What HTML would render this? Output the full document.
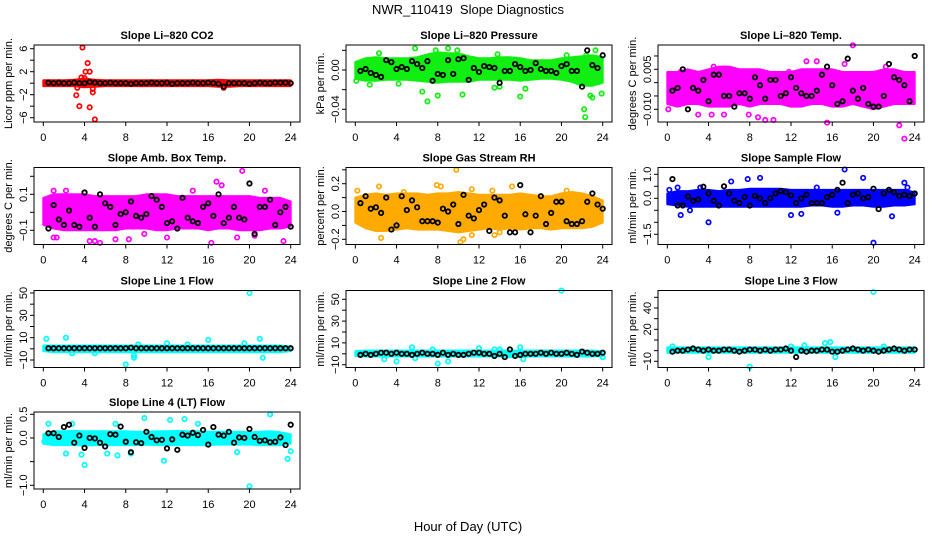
<!DOCTYPE html>
<html><head><meta charset="utf-8"><style>
html,body{margin:0;padding:0;background:#fff}
svg{display:block;font-family:"Liberation Sans",sans-serif}
</style></head><body>
<svg id="chart" width="936" height="540" viewBox="0 0 936 540">
<text x="468" y="14" text-anchor="middle" font-size="13">NWR_110419&#160; Slope Diagnostics</text>
<text x="468" y="531" text-anchor="middle" font-size="13">Hour of Day (UTC)</text>
<g id="panels"></g>
</svg>
<script>
// x axis ticks (hours)
const xTicks = [0,4,8,12,16,20,24];
const hours = [0,1,2,3,4,5,6,7,8,9,10,11,12,13,14,15,16,17,18,19,20,21,22,23,24];
// black points are at 0.5 h steps starting 0.5
// ---- Panel 1: CO2 ----
const co2Lo = [-0.5,-0.5,-0.5,-0.5,-0.7,-0.6,-0.5,-0.5,-0.5,-0.5,-0.5,-0.5,-0.5,-0.5,-0.5,-0.5,-0.5,-0.6,-0.6,-0.5,-0.5,-0.5,-0.5,-0.5,-0.5];
const co2Hi = [0.5,0.5,0.5,0.6,0.8,0.6,0.5,0.5,0.5,0.5,0.5,0.5,0.5,0.5,0.5,0.5,0.5,0.6,0.5,0.5,0.5,0.5,0.5,0.5,0.5];
const co2OutX = [3.8,4.3,4.5,4.1,3.7,3.2,3.5,4.5,5.0,4.8,4.8,3.3,17.5,4.0,3.9];
const co2OutY = [6.2,3.5,2.0,2.0,1.0,-2.1,-4.0,-4.2,-6.3,-1.6,-1.0,-0.8,-0.8,0.9,0.4];
const co2Blk = [0.1,0,0.1,0,0,0.1,0,0,0.2,0.1,0,0,0.1,0,0,0,-0.1,0,0,0,0.1,0,0,0.1,-0.1,0,0,0,0.1,0,0,0.1,0,-0.1,-0.6,0,0,0,0,-0.1,0,0.1,0,0,0.1,0.1,0.1,0];
// ---- Panel 2: Pressure ----
const prLo = [-0.009,-0.011,-0.011,-0.010,-0.010,-0.010,-0.011,-0.012,-0.013,-0.012,-0.012,-0.012,-0.010,-0.010,-0.010,-0.010,-0.011,-0.010,-0.009,-0.009,-0.010,-0.012,-0.016,-0.016,-0.013];
const prHi = [0.008,0.012,0.013,0.012,0.012,0.012,0.013,0.016,0.018,0.017,0.017,0.014,0.012,0.012,0.013,0.013,0.012,0.010,0.010,0.010,0.012,0.013,0.014,0.015,0.013];
const prOutX = [5.8,6.5,7.0,8.0,9.0,10.4,13.5,14.0,16.0,16.5,22.2,22.3,22.8,23.0,23.9,23.3,22.4,0.1,1.4,2.3,4.2,7.8,9.9,13.8,20.5];
const prOutY = [0.022,-0.022,-0.032,-0.026,0.022,-0.025,-0.018,-0.017,-0.027,-0.019,-0.040,-0.048,-0.026,-0.028,-0.024,0.020,0.015,-0.011,-0.015,0.017,-0.014,0.020,0.020,0.016,0.015];
const prBlk = [-0.001,0.001,-0.003,-0.005,-0.007,0.010,0.008,0.001,0.003,0.001,0.009,0.006,0.002,0.009,-0.011,-0.004,-0.005,0.010,-0.004,0.011,0.012,-0.010,0.002,-0.002,0.004,0.003,0.002,-0.013,-0.001,-0.001,0.006,0.003,-0.001,0.000,0.007,0.001,-0.001,-0.001,-0.003,0.004,0.006,-0.001,-0.001,-0.017,0.020,0.005,0.002,0.015];
// ---- Panel 3: Li-820 Temp ----
const tLo = [-0.008,-0.009,-0.008,-0.008,-0.009,-0.009,-0.009,-0.008,-0.009,-0.008,-0.008,-0.008,-0.009,-0.009,-0.008,-0.008,-0.009,-0.009,-0.008,-0.009,-0.010,-0.009,-0.008,-0.008,-0.008];
const tHi = [0.004,0.004,0.005,0.004,0.005,0.006,0.006,0.005,0.005,0.005,0.004,0.004,0.004,0.005,0.005,0.005,0.005,0.004,0.004,0.004,0.004,0.005,0.005,0.004,0.004];
const tOutX = [18.0,13.5,14.5,4.5,0.1,4.3,5.5,8.8,9.5,10.3,15.5,22.5,23.0,3.0,1.3,6.2,11.8,17.2,21.2,7.9];
const tOutY = [0.014,0.008,0.008,0.006,-0.010,-0.012,-0.012,-0.013,-0.014,-0.014,-0.015,-0.016,-0.021,-0.012,0.004,0.003,0.004,0.007,0.006,-0.012];
const tBlk = [-0.003,-0.002,0.005,-0.010,-0.002,-0.003,0.001,-0.007,0.003,0.003,-0.005,-0.005,-0.009,-0.004,-0.004,-0.006,0.002,-0.001,-0.006,0.001,0.001,-0.005,-0.004,0.002,-0.002,-0.004,-0.005,-0.005,-0.003,0.003,0.006,-0.001,-0.008,-0.007,0.009,-0.003,-0.006,-0.002,-0.008,-0.009,-0.009,-0.005,0.007,0.002,0.001,-0.001,-0.007,0.010];
// ---- Panel 4: Amb. Box Temp ----
const abLo = [-0.07,-0.09,-0.10,-0.10,-0.10,-0.10,-0.10,-0.10,-0.09,-0.09,-0.09,-0.10,-0.10,-0.09,-0.09,-0.09,-0.10,-0.09,-0.09,-0.10,-0.10,-0.10,-0.09,-0.09,-0.08];
const abHi = [0.08,0.10,0.10,0.10,0.10,0.09,0.09,0.09,0.09,0.09,0.10,0.10,0.10,0.09,0.09,0.09,0.09,0.09,0.09,0.09,0.09,0.08,0.08,0.08,0.06];
const abOutX = [19.3,16.8,17.3,14.5,1.0,2.2,21.5,4.5,5.0,5.5,8.3,12.0,16.3,18.8,23.3,1.0,1.3,7.0,20.5,9.8];
const abOutY = [0.23,0.17,0.15,0.12,0.12,0.12,0.12,-0.16,-0.16,-0.17,-0.15,-0.14,-0.17,-0.14,-0.16,-0.14,-0.14,-0.15,-0.13,-0.12];
const abBlk = [-0.09,0.04,-0.04,-0.07,0.01,-0.07,-0.08,0.11,-0.03,-0.08,0.10,0.05,0.03,-0.07,-0.01,0.00,0.06,-0.02,-0.03,-0.01,0.09,0.07,0.03,-0.06,-0.05,-0.09,0.08,-0.03,-0.05,-0.06,0.03,0.05,-0.02,0.10,-0.06,-0.03,0.03,-0.03,-0.04,0.16,-0.12,0.03,0.03,0.07,-0.07,0.00,0.03,-0.08];
// ---- Panel 5: Gas Stream RH ----
const rhLo = [-0.08,-0.12,-0.14,-0.14,-0.13,-0.12,-0.13,-0.13,-0.13,-0.14,-0.15,-0.14,-0.13,-0.12,-0.13,-0.12,-0.13,-0.12,-0.12,-0.13,-0.12,-0.12,-0.12,-0.11,-0.08];
const rhHi = [0.10,0.12,0.13,0.12,0.13,0.13,0.13,0.12,0.13,0.13,0.14,0.13,0.12,0.12,0.12,0.12,0.13,0.12,0.11,0.11,0.13,0.14,0.13,0.11,0.08];
const rhOutX = [9.8,0.2,2.3,7.9,8.3,11.3,13.3,15.2,2.5,10.2,10.5,11.3,13.5,14.0,4.7,20.5];
const rhOutY = [0.30,0.15,0.18,0.19,0.18,0.16,0.15,0.18,-0.19,-0.22,-0.20,-0.17,-0.17,-0.15,0.14,0.15];
const rhBlk = [0.06,0.11,0.02,0.03,-0.01,0.10,-0.13,-0.10,0.11,0.01,0.08,0.03,-0.07,-0.07,-0.07,-0.08,0.02,0.00,0.05,-0.09,0.12,-0.03,-0.05,0.01,0.05,-0.14,0.10,0.08,-0.03,-0.15,-0.15,0.19,-0.02,-0.15,-0.03,0.11,-0.09,-0.01,0.07,0.07,-0.07,-0.09,-0.09,-0.07,0.07,0.13,0.05,0.02];
// ---- Panel 6: Sample Flow ----
const sfLo = [-0.25,-0.30,-0.35,-0.35,-0.35,-0.35,-0.35,-0.35,-0.35,-0.35,-0.35,-0.35,-0.35,-0.35,-0.30,-0.30,-0.35,-0.35,-0.30,-0.30,-0.35,-0.35,-0.30,-0.30,-0.25];
const sfHi = [0.20,0.30,0.30,0.35,0.35,0.30,0.35,0.35,0.40,0.40,0.40,0.40,0.35,0.35,0.35,0.35,0.35,0.35,0.35,0.35,0.35,0.35,0.35,0.35,0.25];
const sfOutX = [17.2,19.0,9.0,7.8,6.2,23.0,4.0,20.0,12.0,13.0,1.3,21.8,16.5,0.2,1.0,3.2,23.3,2.2,14.5];
const sfOutY = [1.20,0.85,0.85,0.80,0.70,0.65,-1.00,-1.85,-0.70,-0.65,-0.70,-0.75,-0.60,0.35,0.45,0.45,0.45,-0.50,0.45];
const sfBlk = [0.80,-0.30,-0.30,0.08,-0.10,-0.05,0.48,0.20,-0.10,-0.30,0.50,0.20,-0.10,-0.20,0.05,-0.30,0.10,0.00,-0.20,0.00,0.20,0.30,0.25,0.12,-0.20,-0.00,0.15,-0.20,-0.20,-0.20,0.05,0.15,0.35,0.65,-0.20,0.15,0.20,0.00,0.05,0.40,-0.45,0.20,0.35,0.25,0.10,0.15,0.10,0.20];
// ---- Panel 7: Line 1 Flow ----
const l1Lo = [-2,-3,-3,-3,-3,-3,-3,-3,-3,-3,-3,-3,-3,-3,-3,-3,-3,-3,-3,-3,-3,-3,-3,-3,-2];
const l1Hi = [3,3,3,3,3,3,3,3,3,3,3,3,3,3,3,3,3,3,3,3,3,3,3,3,2];
const l1OutX = [20.0,0.3,2.2,21.0,16.0,8.0,8.8,8.8,2.8,21.3,5.0,19.5,9.2,14.0,12.0];
const l1OutY = [50,9,10,9,8,-14,-8,-6,-4,-8,-4,5,4,4,5];
const l1Blk = [0.5,0.5,0.5,0.5,0.5,0.5,0.5,0.5,0.5,0.5,0.5,0.5,0.5,0.5,0.5,0.5,1,0.5,0.5,0.5,0.5,0.5,0.5,0.5,0.5,0.5,0.5,0.5,0.5,0.5,0.5,0.5,0.5,0.5,0.5,0.5,0.5,0.5,0.5,0.5,0.5,0.5,0.5,0.5,0.5,0.5,0.5,0.5];
// ---- Panel 8: Line 2 Flow ----
const l2Lo = [-2,-2.5,-2.5,-2.5,-2.5,-2.5,-2.5,-2.5,-2.5,-2.5,-2.5,-2.5,-2.5,-2.5,-2.5,-3,-3,-2.5,-2.5,-2.5,-2.5,-2.5,-2.5,-2.5,-2];
const l2Hi = [2.5,3,3,3,3,3,3,3,3,3,3,3,3,3,3,3,3,3,3,3,3,3,3,3,2.5];
const l2OutX = [20.0,4.0,8.0,9.0,2.8,5.5,7.5,12.0,13.5,16.0,5.8,16.3,24.0,14.0];
const l2OutY = [58,-7,-9,-7,-5,6,4,5,4,6,-4,-5,-3,4];
const l2Blk = [-1,0,-1,0,1,1,0,1,0,0,-1,0,1,0,0,-1,1,-1,0,-1,-1,0,1,1,0,0,-2,0,-3,4,-2,-1,0,0,0,1,0,1,0,0,1,0,-1,2,1,0,0,1];
// ---- Panel 9: Line 3 Flow ----
const l3Lo = [-2,-2,-2,-2,-2,-2,-2,-2,-2,-2,-2,-2,-2,-2,-2,-2,-2,-2,-2,-2,-2,-2,-2,-2,-2];
const l3Hi = [3,3,3,3,3,3,3,3,3,3,3,3,3,3,3,3,3,3,3,3,3,3,3,3,3];
const l3OutX = [20.0,8.0,4.0,13.3,15.3,15.8,16.3,0.5,21.0,12.0];
const l3OutY = [55,-15,-6,5,7,8,-6,4,4,4];
const l3Blk = [-1,0,0,1,2,1,0,1,0,0,1,1,0,-1,0,1,1,0,1,0,1,1,2,0,-6,0,-1,0,0,1,1,-1,-1,0,1,2,1,0,1,0,-1,0,1,2,1,0,1,1];
// ---- Panel 10: Line 4 (LT) Flow ----
const l4Lo = [-0.12,-0.15,-0.15,-0.15,-0.16,-0.15,-0.15,-0.15,-0.15,-0.15,-0.14,-0.15,-0.15,-0.15,-0.15,-0.15,-0.15,-0.14,-0.14,-0.14,-0.14,-0.15,-0.15,-0.15,-0.12];
const l4Hi = [0.08,0.14,0.14,0.15,0.14,0.14,0.14,0.14,0.14,0.13,0.13,0.14,0.14,0.15,0.14,0.14,0.13,0.13,0.13,0.13,0.12,0.13,0.14,0.12,0.08];
const l4OutX = [20.0,4.0,22.0,9.8,11.7,23.7,2.8,0.5,7.0,12.3,13.7,18.8,2.2,6.2,7.2,8.5,3.7,24.0,0.1,15.0];
const l4OutY = [-1.02,-0.57,0.50,0.42,-0.48,-0.44,0.30,0.30,0.30,0.38,0.40,-0.30,-0.33,-0.33,-0.37,-0.33,-0.35,-0.28,-0.08,0.30];
const l4Blk = [0.10,0.10,0.02,0.23,0.28,-0.10,0.05,-0.21,0.00,-0.01,-0.10,-0.18,0.08,0.07,0.24,-0.08,-0.30,-0.09,-0.11,0.13,0.02,-0.05,-0.04,-0.22,-0.03,-0.25,0.07,0.05,0.11,0.06,0.17,-0.14,0.23,0.07,0.05,0.13,-0.10,0.01,0.00,0.19,0.02,-0.06,-0.05,-0.09,-0.08,0.01,-0.15,0.28];

const panels = [
 {name:'co2',title:'Slope Li\u2013820 CO2',ylab:'Licor ppm per min.',col:0,row:0,color:'#ff0000',lo:co2Lo,hi:co2Hi,ox:co2OutX,oy:co2OutY,blk:co2Blk,v1:6,p1:48.7,v2:-6,p2:117.7,ticks:[6,4,2,0,-2,-4,-6],labels:['6','2','\u22122','\u22126'],labelVals:[6,2,-2,-6]},
 {name:'pressure',title:'Slope Li\u2013820 Pressure',ylab:'kPa per min.',col:1,row:0,color:'#11ee11',lo:prLo,hi:prHi,ox:prOutX,oy:prOutY,blk:prBlk,v1:0,p1:70,v2:-0.04,p2:109.3,ticks:[0.02,0,-0.02,-0.04],labels:['0.00','\u22120.04'],labelVals:[0,-0.04]},
 {name:'li820-temp',title:'Slope Li\u2013820 Temp.',ylab:'degrees C per min.',col:2,row:0,color:'#ff00ff',lo:tLo,hi:tHi,ox:tOutX,oy:tOutY,blk:tBlk,v1:0.005,p1:69.3,v2:-0.010,p2:109.3,ticks:[0.010,0.005,0,-0.005,-0.010],labels:['0.005','\u22120.010'],labelVals:[0.005,-0.010]},
 {name:'amb-box-temp',title:'Slope Amb. Box Temp.',ylab:'degrees C per min.',col:0,row:1,color:'#ff00ff',lo:abLo,hi:abHi,ox:abOutX,oy:abOutY,blk:abBlk,v1:0.1,p1:194.3,v2:-0.1,p2:230.3,ticks:[0.2,0.1,0,-0.1],labels:['0.1','\u22120.1'],labelVals:[0.1,-0.1]},
 {name:'gas-stream-rh',title:'Slope Gas Stream RH',ylab:'percent per min.',col:1,row:1,color:'#ffaa00',lo:rhLo,hi:rhHi,ox:rhOutX,oy:rhOutY,blk:rhBlk,v1:0.2,p1:183.7,v2:-0.2,p2:239.3,ticks:[0.3,0.2,0.1,0,-0.1,-0.2],labels:['0.2','0.0','\u22120.2'],labelVals:[0.2,0,-0.2]},
 {name:'sample-flow',title:'Slope Sample Flow',ylab:'ml/min per min.',col:2,row:1,color:'#0000ff',lo:sfLo,hi:sfHi,ox:sfOutX,oy:sfOutY,blk:sfBlk,v1:1.0,p1:174.3,v2:-1.5,p2:234.3,ticks:[1,0.5,0,-0.5,-1,-1.5],labels:['1.0','0.0','\u22121.5'],labelVals:[1,0,-1.5]},
 {name:'line1-flow',title:'Slope Line 1 Flow',ylab:'ml/min per min.',col:0,row:2,color:'#00ffff',lo:l1Lo,hi:l1Hi,ox:l1OutX,oy:l1OutY,blk:l1Blk,v1:50,p1:293,v2:-10,p2:360,ticks:[50,40,30,20,10,0,-10],labels:['50','30','10','\u221210'],labelVals:[50,30,10,-10]},
 {name:'line2-flow',title:'Slope Line 2 Flow',ylab:'ml/min per min.',col:1,row:2,color:'#00ffff',lo:l2Lo,hi:l2Hi,ox:l2OutX,oy:l2OutY,blk:l2Blk,v1:50,p1:299.3,v2:-10,p2:364.7,ticks:[50,40,30,20,10,0,-10],labels:['50','30','10','\u221210'],labelVals:[50,30,10,-10]},
 {name:'line3-flow',title:'Slope Line 3 Flow',ylab:'ml/min per min.',col:2,row:2,color:'#00ffff',lo:l3Lo,hi:l3Hi,ox:l3OutX,oy:l3OutY,blk:l3Blk,v1:40,p1:308,v2:-10,p2:361.3,ticks:[50,40,30,20,10,0,-10],labels:['40','20','\u221210'],labelVals:[40,20,-10]},
 {name:'line4-flow',title:'Slope Line 4 (LT) Flow',ylab:'ml/min per min.',col:0,row:3,color:'#00ffff',lo:l4Lo,hi:l4Hi,ox:l4OutX,oy:l4OutY,blk:l4Blk,v1:0.5,p1:414.3,v2:-1.0,p2:485.3,ticks:[0.5,0,-0.5,-1],labels:['0.5','0.0','\u22121.0'],labelVals:[0.5,0,-1]}
];
const rowTops = [45,167.5,290.5,412];
const NS='http://www.w3.org/2000/svg';
function mk(tag,attrs,parent){const e=document.createElementNS(NS,tag);for(const k in attrs)e.setAttribute(k,attrs[k]);parent.appendChild(e);return e;}
const root=document.getElementById('panels');
panels.forEach(p=>{
  const cx=p.col*312, top=rowTops[p.row], bot=top+77;
  const fx0=cx+34, fx1=cx+300;
  const xs=h=>cx+43.3+h*(247.4/24);
  const ys=v=>p.p1+(v-p.v1)*(p.p2-p.p1)/(p.v2-p.v1);
  const g=mk('g',{},root);
  
  
  const t=mk('text',{x:(fx0+fx1)/2,y:top-6,'text-anchor':'middle','font-size':'11','font-weight':'bold'},g);
  t.textContent=p.title;
  
  
  const yl=mk('text',{transform:`translate(${cx+12},${(top+bot)/2}) rotate(-90)`,'text-anchor':'middle','font-size':'11'},g);
  yl.textContent=p.ylab;
  
  
  // band of dense points
  let d='';
  hours.forEach((h,i)=>{d+=(i?'L':'M')+xs(h).toFixed(1)+','+ys(p.hi[i]).toFixed(1);});
  for(let i=hours.length-1;i>=0;i--)d+='L'+xs(hours[i]).toFixed(1)+','+ys(p.lo[i]).toFixed(1);
  const band=mk('path',{d:d+'Z',fill:p.color,stroke:p.color,'stroke-width':'2','stroke-linejoin':'round'},g);
  
  
  p.ox.forEach((h,i)=>{
    const c=mk('circle',{cx:xs(h),cy:ys(p.oy[i]),r:2.2,fill:'none',stroke:p.color,'stroke-width':'1.7'},g);
    
    
  });
  p.blk.forEach((v,i)=>{
    const c=mk('circle',{cx:xs(0.5*(i+1)),cy:ys(v),r:2.2,fill:'none',stroke:'#000','stroke-width':'1.8'},g);
    
    
  });
  const fr=mk('rect',{x:fx0,y:top,width:fx1-fx0,height:77,fill:'none',stroke:'#000','stroke-width':'1'},g);
  
  
  // x axis
  xTicks.forEach(h=>{
    mk('line',{x1:xs(h),x2:xs(h),y1:bot,y2:bot+4,stroke:'#000'},g);
    const tl=mk('text',{x:xs(h),y:bot+19,'text-anchor':'middle','font-size':'11'},g);
    tl.textContent=h;
    
    
  });
  // y axis
  const tp=p.ticks.map(ys).filter(y=>y>=top-1&&y<=bot+1);
  if(tp.length) mk('line',{x1:fx0,x2:fx0,y1:Math.min(...tp),y2:Math.max(...tp),stroke:'#000'},g);
  p.ticks.forEach(v=>{const y=ys(v); if(y<top-1||y>bot+1)return; mk('line',{x1:fx0-4,x2:fx0,y1:y,y2:y,stroke:'#000'},g);});
  p.labelVals.forEach((v,i)=>{
    const tl=mk('text',{transform:`translate(${cx+27},${ys(v)}) rotate(-90)`,'text-anchor':'middle','font-size':'11'},g);
    tl.textContent=p.labels[i];
    
    
  });
});
</script>
</body></html>
